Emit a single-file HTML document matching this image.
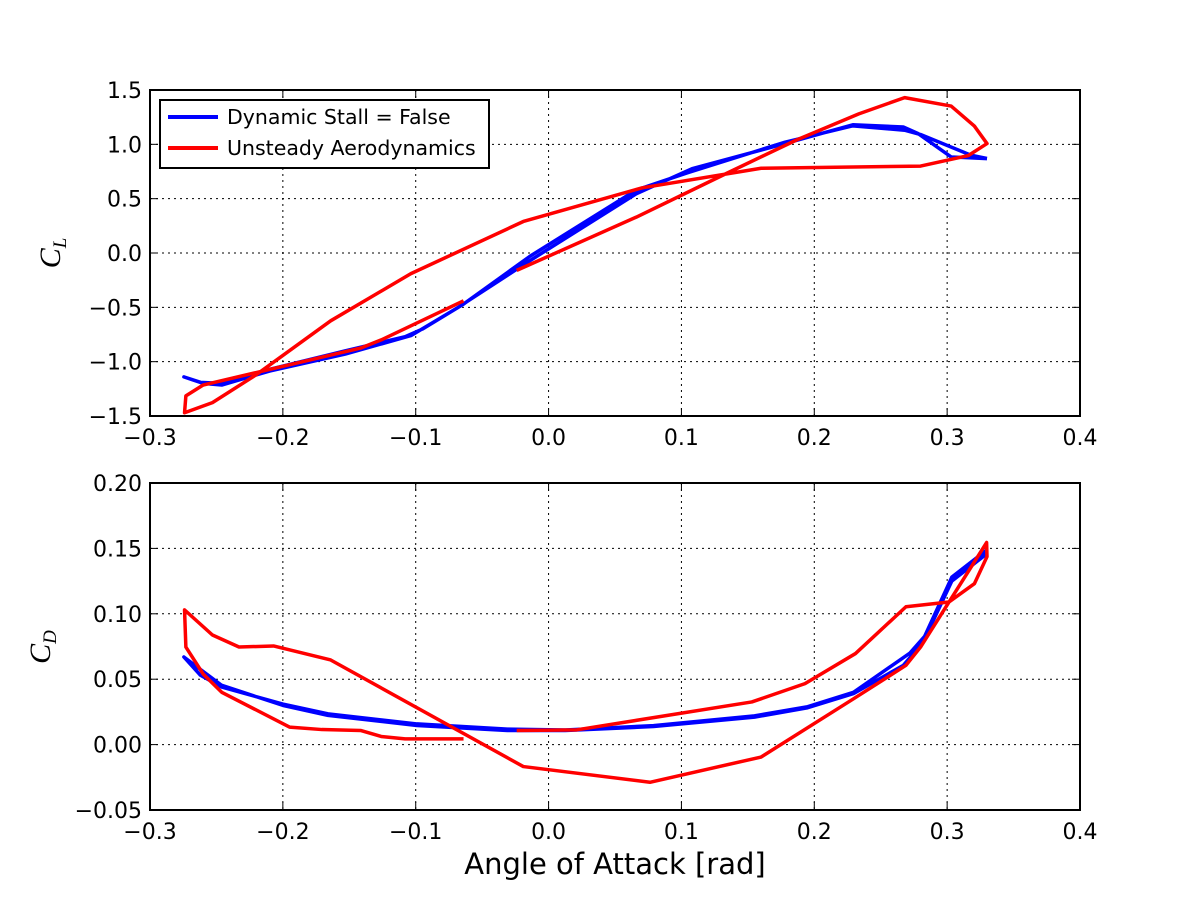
<!DOCTYPE html>
<html><head><meta charset="utf-8"><style>
body{margin:0;background:#fff}
svg text{font-family:"DejaVu Sans","Liberation Sans",sans-serif}
svg text.math{font-family:"Liberation Serif",serif;font-style:italic}
</style></head><body>
<svg id="chart" width="1200" height="900" xmlns="http://www.w3.org/2000/svg">
<rect width="1200" height="900" fill="#fff"/>
<g id="top"></g>
<g id="bot"></g>
<text x="615" y="874" font-size="29" text-anchor="middle">Angle of Attack [rad]</text>
<text class="math" transform="translate(60,253) rotate(-90)" font-size="30" text-anchor="middle">C<tspan font-size="19" dy="6">L</tspan></text>
<text class="math" transform="translate(50,647) rotate(-90)" font-size="30" text-anchor="middle">C<tspan font-size="19" dy="6">D</tspan></text>
<g>
<rect x="160" y="100" width="329" height="68" fill="#fff" stroke="#000" stroke-width="2"/>
<line x1="168" y1="117" x2="218" y2="117" stroke="#0000ff" stroke-width="4"/>
<text x="227" y="124" font-size="20.5">Dynamic Stall = False</text>
<line x1="168" y1="148" x2="218" y2="148" stroke="#ff0000" stroke-width="4"/>
<text x="227" y="155" font-size="20.5">Unsteady Aerodynamics</text>
</g>
</svg>
<script>
const xTicks=[-0.3,-0.2,-0.1,0.0,0.1,0.2,0.3,0.4];
const clTicks=[-1.5,-1.0,-0.5,0.0,0.5,1.0,1.5];
const cdTicks=[-0.05,0.00,0.05,0.10,0.15,0.20];
const clBlueX=[0.330,0.303,0.278,0.267,0.229,0.178,0.108,0.066,-0.014,-0.068,-0.1036,-0.153,-0.21,-0.246,-0.26,-0.2745,-0.262,-0.246,-0.21,-0.153,-0.108,-0.095,-0.064,-0.014,0.066,0.105,0.178,0.229,0.268,0.280,0.318,0.330];
const clBlueY=[0.868,0.884,1.10,1.16,1.18,1.007,0.776,0.545,-0.07,-0.50,-0.76,-0.93,-1.086,-1.215,-1.20,-1.14,-1.19,-1.20,-1.07,-0.90,-0.77,-0.70,-0.47,-0.03,0.58,0.74,1.02,1.17,1.13,1.09,0.90,0.87];
const clRedX=[-0.064,-0.126,-0.1415,-0.22,-0.26,-0.273,-0.274,-0.253,-0.22,-0.164,-0.1036,-0.019,0.0705,0.16,0.28,0.316,0.330,0.3205,0.303,0.268,0.2335,0.1866,0.133,0.066,-0.024];
const clRedY=[-0.44,-0.80,-0.875,-1.10,-1.215,-1.315,-1.47,-1.377,-1.12,-0.624,-0.19,0.29,0.60,0.78,0.80,0.897,1.007,1.168,1.352,1.43,1.28,1.04,0.727,0.33,-0.16];
const cdBlueX=[0.330,0.3035,0.280,0.267,0.2295,0.195,0.155,0.079,0.0125,-0.031,-0.099,-0.166,-0.2,-0.246,-0.2745,-0.262,-0.246,-0.2,-0.166,-0.099,-0.031,0.0125,0.079,0.155,0.195,0.2295,0.272,0.285,0.3035,0.330];
const cdBlueY=[0.149,0.128,0.076,0.0606,0.039,0.0282,0.021,0.0138,0.0108,0.0108,0.0146,0.0223,0.030,0.0453,0.067,0.053,0.044,0.031,0.0235,0.0158,0.0118,0.0112,0.0145,0.022,0.029,0.040,0.070,0.085,0.125,0.146];
const cdRedX=[-0.064,-0.108,-0.126,-0.1415,-0.1706,-0.195,-0.246,-0.26,-0.273,-0.274,-0.253,-0.233,-0.207,-0.164,-0.019,0.0763,0.16,0.2295,0.269,0.28,0.3297,0.330,0.3205,0.3013,0.269,0.231,0.193,0.153,0.0214,-0.024];
const cdRedY=[0.0044,0.0044,0.0062,0.0108,0.0115,0.0134,0.040,0.054,0.0746,0.103,0.0838,0.0746,0.0754,0.0647,-0.0168,-0.0288,-0.0095,0.035,0.0606,0.0746,0.1545,0.1437,0.123,0.109,0.1054,0.0696,0.0466,0.0326,0.0113,0.0108];
const NS='http://www.w3.org/2000/svg';
const X0=150,X1=1080;
const sx=v=>X0+(v+0.3)/0.7*(X1-X0);
function mk(tag,attrs,parent){const e=document.createElementNS(NS,tag);for(const k in attrs)e.setAttribute(k,attrs[k]);parent.appendChild(e);return e;}
function panel(g,top,bot,ymin,ymax,yt,dec,series){
  const sy=v=>bot-(v-ymin)/(ymax-ymin)*(bot-top);
  const clip='c'+top;
  const d=mk('clipPath',{id:clip},g);mk('rect',{x:X0,y:top,width:X1-X0,height:bot-top},d);
  xTicks.forEach(t=>{const x=sx(t);
    const l=mk('line',{x1:x,y1:top,x2:x,y2:bot,stroke:'#000','stroke-dasharray':'2,4','stroke-width':1},g);
    
    
    mk('line',{x1:x,y1:bot,x2:x,y2:bot-8,stroke:'#000'},g);mk('line',{x1:x,y1:top,x2:x,y2:top+8,stroke:'#000'},g);
    const tx=mk('text',{x:x,y:bot+29,'font-size':22,'text-anchor':'middle'},g);
    tx.textContent=(t<0?'\u2212':'')+Math.abs(t).toFixed(1);
    
    
  });
  yt.forEach(t=>{const y=sy(t);
    const l=mk('line',{x1:X0,y1:y,x2:X1,y2:y,stroke:'#000','stroke-dasharray':'2,4','stroke-width':1},g);
    
    
    mk('line',{x1:X0,y1:y,x2:X0+8,y2:y,stroke:'#000'},g);mk('line',{x1:X1,y1:y,x2:X1-8,y2:y,stroke:'#000'},g);
    const tx=mk('text',{x:X0-8,y:y+8,'font-size':22,'text-anchor':'end'},g);
    tx.textContent=(t<0?'\u2212':'')+Math.abs(t).toFixed(dec);
    
    
  });
  series.forEach(s=>{
    const pts=s.x.map((v,i)=>sx(v)+','+sy(s.y[i])).join(' ');
    const p=mk('polyline',{points:pts,fill:'none',stroke:s.c,'stroke-width':3.5,'stroke-linejoin':'round','clip-path':'url(#'+clip+')'},g);
    
    
  });
  const r=mk('rect',{x:X0,y:top,width:X1-X0,height:bot-top,fill:'none',stroke:'#000','stroke-width':2},g);
  
  
}
panel(document.getElementById('top'),90,416,-1.5,1.5,clTicks,1,[
  {x:clBlueX,y:clBlueY,c:'#0000ff',n:'cl-dynamic-stall-line'},
  {x:clRedX,y:clRedY,c:'#ff0000',n:'cl-unsteady-line'}]);
panel(document.getElementById('bot'),483,810,-0.05,0.20,cdTicks,2,[
  {x:cdBlueX,y:cdBlueY,c:'#0000ff',n:'cd-dynamic-stall-line'},
  {x:cdRedX,y:cdRedY,c:'#ff0000',n:'cd-unsteady-line'}]);
</script>
</body></html>
